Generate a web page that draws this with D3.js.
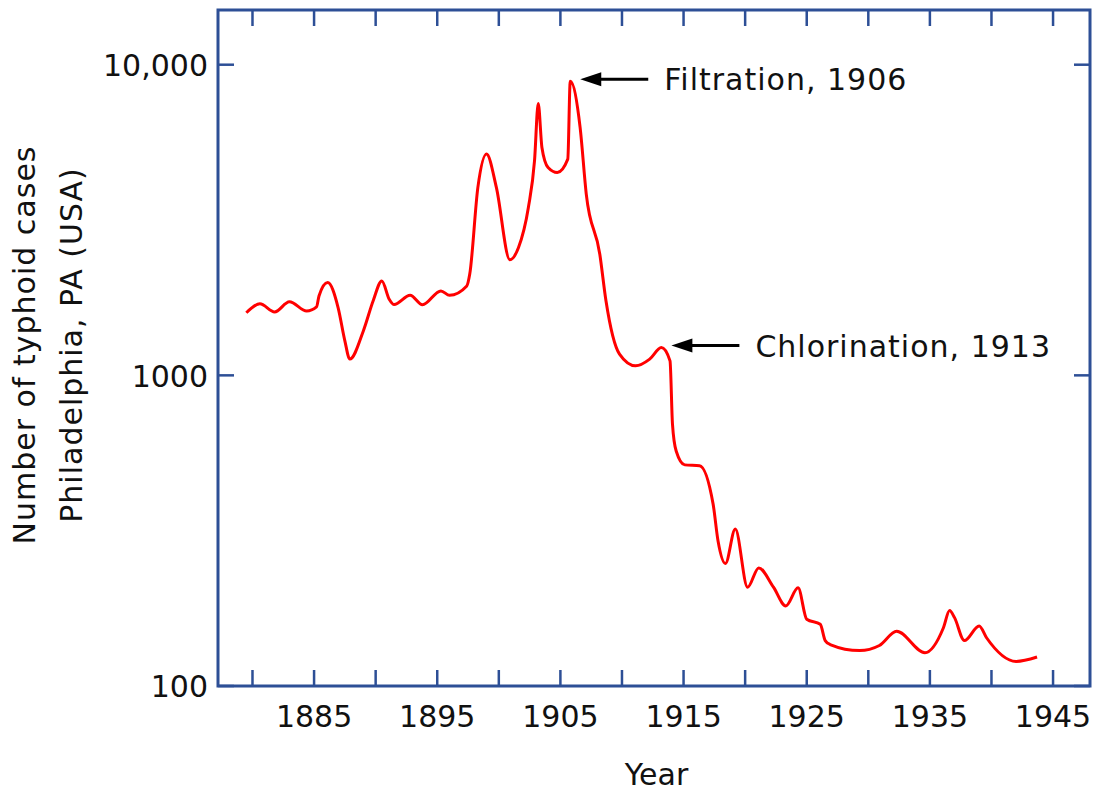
<!DOCTYPE html>
<html>
<head>
<meta charset="utf-8">
<script src="https://cdn.jsdelivr.net/npm/d3@7/dist/d3.min.js"></script>
<style>
  body { margin: 0; background: #fff; }
  text { font-family: 'DejaVu Sans', Verdana, sans-serif; fill: #111; }
</style>
</head>
<body>
<div id="chart"></div>
<script>
// (year, typhoid cases)
const years = [1879.5, 1880.6, 1881.8, 1883.0, 1884.4, 1885.2, 1885.4, 1886.1, 1886.95, 1887.5,
               1887.9, 1889.0, 1889.8, 1890.5, 1891.1, 1891.5, 1892.8, 1893.8, 1895.3, 1896.0,
               1897.4, 1897.64, 1898.3, 1899.0, 1899.8, 1900.9, 1901.6, 1902.4, 1902.9, 1903.2,
               1903.5, 1904.0, 1904.75, 1905.6, 1905.8, 1906.6, 1907.1, 1908.2, 1908.7, 1909.8,
               1911.1, 1912.25, 1913.2, 1913.9, 1914.1, 1914.4, 1915.1, 1916.3, 1917.4, 1917.8,
               1918.4, 1919.2, 1920.2, 1921.1, 1922.3, 1923.3, 1924.3, 1925.0, 1926.1, 1926.5,
               1926.9, 1929.3, 1930.9, 1932.3, 1934.6, 1936.1, 1936.6, 1937.0, 1937.8, 1939.0,
               1939.6, 1942.0, 1943.7]
const cases = [1590, 1700, 1600, 1725, 1610, 1660, 1800, 1990, 1653, 1292,
               1128, 1390, 1738, 2014, 1759, 1690, 1810, 1687, 1870, 1810,
               1940, 2118, 4028, 5157, 4028, 2355, 2580, 3471, 4910, 7500,
               5417, 4670, 4500, 4966, 8840, 6285, 3832, 2455, 1738, 1170,
               1073, 1128, 1229, 1113, 697, 571, 515, 512, 385, 293,
               248, 320, 208, 240, 208, 181, 207, 164, 158, 140,
               136, 130, 135, 150, 128, 154, 175, 166, 140, 156,
               143, 120, 124]

const tickYears = d3.range(1880, 1946, 5)
const labelYears = [1885, 1895, 1905, 1915, 1925, 1935, 1945]
const caseTicks = [100, 1000, 10000]

const notes = [
  { label: 'Filtration, 1906', year: 1905.8, cases: 8840 },
  { label: 'Chlorination, 1913', year: 1913.2, cases: 1229 }
]

const data = years.map((y, i) => ({ year: y, cases: cases[i] }))

const margin = { top: 10, right: 8, bottom: 107, left: 218 }
const width = 1098 - margin.left - margin.right,
      height = 793 - margin.top - margin.bottom

const frameColor = '#2d4f96'
const tickLen = 16

const xScale = d3.scaleLinear()
  .domain([1877.2, 1948])
  .range([0, width])

const yScale = d3.scaleLog()
  .domain([100, 15000])
  .range([height, 0])

const svg = d3.select('#chart').append('svg')
  .attr('width', 1098)
  .attr('height', 793)

const g = svg.append('g')
  .attr('transform', 'translate(' + margin.left + ', ' + margin.top + ')')

// ticks, pointing inward on all four sides
g.append('g').selectAll('line')
  .data(tickYears).enter()
  .append('line')
  .attr('x1', d => xScale(d)).attr('x2', d => xScale(d))
  .attr('y1', height).attr('y2', height - tickLen)
  .attr('stroke', frameColor).attr('stroke-width', 2.5)

g.append('g').selectAll('line')
  .data(tickYears).enter()
  .append('line')
  .attr('x1', d => xScale(d)).attr('x2', d => xScale(d))
  .attr('y1', 0).attr('y2', tickLen)
  .attr('stroke', frameColor).attr('stroke-width', 2.5)

g.append('g').selectAll('line')
  .data(caseTicks).enter()
  .append('line')
  .attr('x1', 0).attr('x2', tickLen)
  .attr('y1', d => yScale(d)).attr('y2', d => yScale(d))
  .attr('stroke', frameColor).attr('stroke-width', 2.5)

g.append('g').selectAll('line')
  .data(caseTicks).enter()
  .append('line')
  .attr('x1', width).attr('x2', width - tickLen)
  .attr('y1', d => yScale(d)).attr('y2', d => yScale(d))
  .attr('stroke', frameColor).attr('stroke-width', 2.5)

g.append('rect')
  .attr('width', width)
  .attr('height', height)
  .attr('fill', 'none')
  .attr('stroke', frameColor)
  .attr('stroke-width', 3)

// tick labels
g.append('g').selectAll('text')
  .data(labelYears).enter()
  .append('text')
  .attr('x', d => xScale(d))
  .attr('y', height + 41)
  .attr('text-anchor', 'middle')
  .style('font-size', '30px')
  .text(d => d)

g.append('g').selectAll('text')
  .data(caseTicks).enter()
  .append('text')
  .attr('x', -10)
  .attr('y', d => yScale(d))
  .attr('dy', '0.38em')
  .attr('text-anchor', 'end')
  .style('font-size', '30px')
  .text(d => d === 10000 ? '10,000' : d)

// axis titles
g.append('text')
  .attr('x', xScale(1912.8))
  .attr('y', height + 99)
  .attr('text-anchor', 'middle')
  .style('font-size', '30px')
  .text('Year')

const yTitle = svg.append('g')
  .attr('transform', 'translate(35, 345) rotate(-90)')
  .attr('text-anchor', 'middle')
  .style('font-size', '30px')
  .style('letter-spacing', '1px')
yTitle.append('text').attr('y', 0).text('Number of typhoid cases')
yTitle.append('text').attr('y', 47).text('Philadelphia, PA (USA)')

// the series
const line = d3.line()
  .x(d => xScale(d.year))
  .y(d => yScale(d.cases))
  .curve(d3.curveMonotoneX)

g.append('path')
  .datum(data)
  .attr('d', line)
  .attr('fill', 'none')
  .attr('stroke', '#ff0000')
  .attr('stroke-width', 3)
  .attr('stroke-linejoin', 'round')

// annotations
const note = g.append('g').selectAll('g')
  .data(notes).enter()
  .append('g')
  .attr('transform', d => 'translate(' + (xScale(d.year) + 10) + ', ' + (yScale(d.cases) - 2) + ')')

note.append('line')
  .attr('x1', 18).attr('x2', 68)
  .attr('y1', 0).attr('y2', 0)
  .attr('stroke', '#000')
  .attr('stroke-width', 3)

note.append('path')
  .attr('d', 'M0,0 L21,-7 L21,7 Z')
  .attr('fill', '#000')

note.append('text')
  .attr('x', 84)
  .attr('y', 0)
  .attr('dy', '0.37em')
  .style('font-size', '30px')
  .style('letter-spacing', '1px')
  .text(d => d.label)
</script>
</body>
</html>
